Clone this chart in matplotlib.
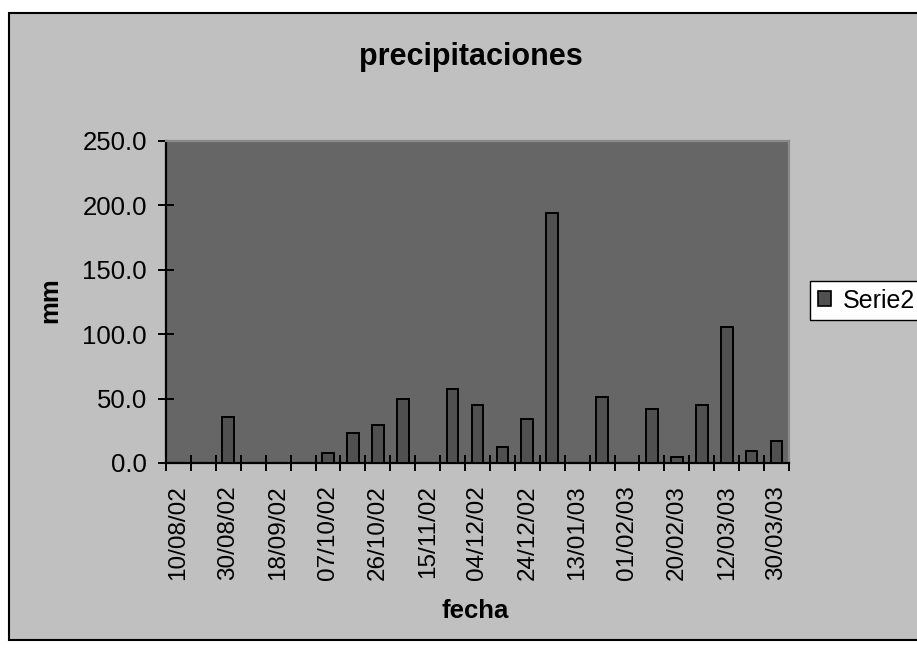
import matplotlib.pyplot as plt
import numpy as np
from matplotlib.patches import Rectangle, Patch

plt.rcParams["font.family"] = ["Liberation Sans", "DejaVu Sans"]

# fechas rotuladas (una de cada dos categorias)
fechas = ["10/08/02", "30/08/02", "18/09/02", "07/10/02", "26/10/02",
          "15/11/02", "04/12/02", "24/12/02", "13/01/03", "01/02/03",
          "20/02/03", "12/03/03", "30/03/03"]

# precipitacion por periodo (mm), 25 categorias
lluvia = [0.0, 0.0, 35.7, 0.0, 0.0, 0.0, 7.8, 23.3, 29.5, 49.6,
          0.0, 57.4, 45.0, 12.1, 34.1, 194.4, 0.0, 51.2, 0.0, 41.9,
          4.3, 45.0, 105.5, 9.3, 17.1]

W, H = 917, 649
fig = plt.figure(figsize=(W / 100, H / 100), dpi=100, facecolor="white")

# area del grafico (fondo gris con borde negro)
fig.patches.append(Rectangle((9 / W, 1 - 640 / H), 1.0, (640 - 13) / H,
                             transform=fig.transFigure, facecolor="#C0C0C0",
                             edgecolor="black", linewidth=1.5, zorder=-10))

ax = fig.add_axes([166 / W, 1 - 463 / H, (789 - 166) / W, (463 - 141) / H])
ax.set_facecolor("#666666")

x = np.arange(len(lluvia))
ax.bar(x, lluvia, width=0.47, color="#505050", edgecolor="black",
       linewidth=1.4, label="Serie2", zorder=3)

ax.set_xlim(-0.5, len(lluvia) - 0.5)
ax.set_ylim(0, 250)

# marcas en los limites de categoria, rotulos en categorias pares
ax.set_xticks(np.arange(len(lluvia) + 1) - 0.5)
ax.set_xticklabels([])
ax.set_xticks(x[::2], minor=True)
ax.set_xticklabels(fechas, minor=True, rotation=90, fontsize=17.5)
ax.tick_params(axis="x", which="major", direction="inout", length=11.5, width=1.4)
ax.tick_params(axis="x", which="minor", length=0, pad=16)

ax.set_yticks(np.arange(0, 251, 50))
ax.set_yticklabels([f"{v:.1f}" for v in np.arange(0, 251, 50)], fontsize=18.5)
ax.tick_params(axis="y", direction="inout", length=11.5, width=1.4, pad=8)

for s in ["left", "bottom"]:
    ax.spines[s].set_linewidth(1.6)
    ax.spines[s].set_color("black")
for s in ["top", "right"]:
    ax.spines[s].set_linewidth(1.6)
    ax.spines[s].set_color("#8A8A8A")

fig.text(471 / W, 1 - 57 / H, "precipitaciones", ha="center", va="center",
         fontsize=22, fontweight="bold")
fig.text(50 / W, 1 - 300 / H, "mm", ha="center", va="center", rotation=90,
         fontsize=18.5, fontweight="bold")
fig.text(475 / W, 1 - 611 / H, "fecha", ha="center", va="center",
         fontsize=18.5, fontweight="bold")

fig.legend(handles=[Patch(facecolor="#505050", edgecolor="black", linewidth=1.2,
                          label="Serie2")],
           loc="upper left", bbox_to_anchor=(810 / W, 1 - 281 / H),
           fontsize=18, frameon=True, fancybox=False, framealpha=1,
           edgecolor="black", handlelength=0.55, handleheight=0.55,
           handletextpad=0.45, borderpad=0.3, borderaxespad=0)

fig.savefig("out.png", dpi=100, facecolor="white")
